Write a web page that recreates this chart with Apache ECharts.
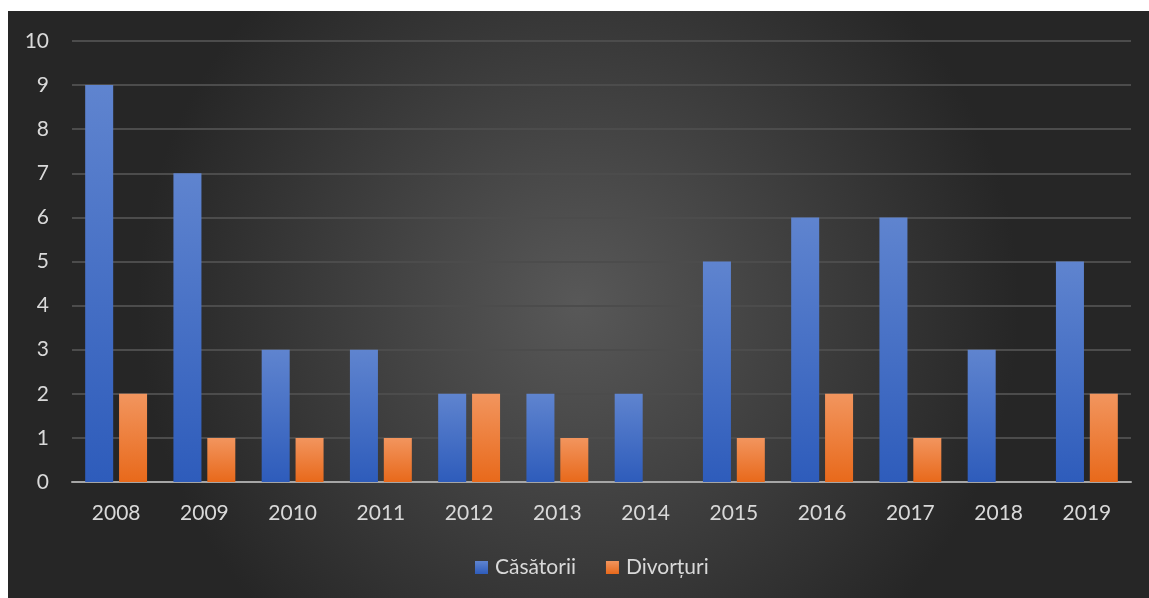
<!DOCTYPE html>
<html><head><meta charset="utf-8">
<script src="https://cdn.jsdelivr.net/npm/echarts@6/dist/echarts.min.js"></script>
<style>html,body{margin:0;padding:0;background:#fff;}#c{position:absolute;left:8px;top:11px;width:1141px;height:587px;}</style>
</head><body><div id="c"></div>
<script>
const categories = ['2008','2009','2010','2011','2012','2013','2014','2015','2016','2017','2018','2019'];
const casatorii = [9,7,3,3,2,2,2,5,6,6,3,5];
const divorturi = [2,1,1,1,2,1,0,1,2,1,0,2];
const yTicks = {min:0,max:10,interval:1};
const font = 'Lato, "Noto Sans", sans-serif';
const chart = echarts.init(document.getElementById('c'));
const grad = (a,b)=>new echarts.graphic.LinearGradient(0,0,0,1,[{offset:0,color:a},{offset:1,color:b}]);
chart.setOption({
  backgroundColor: new echarts.graphic.RadialGradient(0.5,0.5,0.75,[{offset:0,color:'#585858'},{offset:1,color:'#262626'}]),
  textStyle:{fontFamily:font},
  grid:{left:64,right:18,top:30,bottom:116},
  legend:{top:541,left:462,itemWidth:13,itemHeight:13,itemGap:30,icon:'rect',
    textStyle:{color:'#d9d9d9',fontSize:21,fontFamily:font,padding:[0,0,0,2]},
    data:['Căsătorii','Divorțuri']},
  xAxis:{type:'category',data:categories,
    axisLine:{lineStyle:{color:'#a6a6a6',width:2}},axisTick:{show:false},
    axisLabel:{color:'#d9d9d9',fontSize:21,margin:21}},
  yAxis:{type:'value',min:yTicks.min,max:yTicks.max,interval:yTicks.interval,
    axisLine:{show:false},axisTick:{show:false},
    splitLine:{lineStyle:{color:'#4c4c4c',width:2}},
    axisLabel:{color:'#d9d9d9',fontSize:21,margin:23}},
  series:[
    {name:'Căsătorii',type:'bar',data:casatorii,barWidth:28,barGap:'21%',
     itemStyle:{color:grad('#5f84cf','#2e5cbb'),shadowBlur:8,shadowColor:'rgba(0,0,0,0.5)',shadowOffsetX:2,shadowOffsetY:2}},
    {name:'Divorțuri',type:'bar',data:divorturi,barWidth:28,
     itemStyle:{color:grad('#f2955e','#e8691b'),shadowBlur:8,shadowColor:'rgba(0,0,0,0.5)',shadowOffsetX:2,shadowOffsetY:2}}
  ]
});
</script></body></html>
